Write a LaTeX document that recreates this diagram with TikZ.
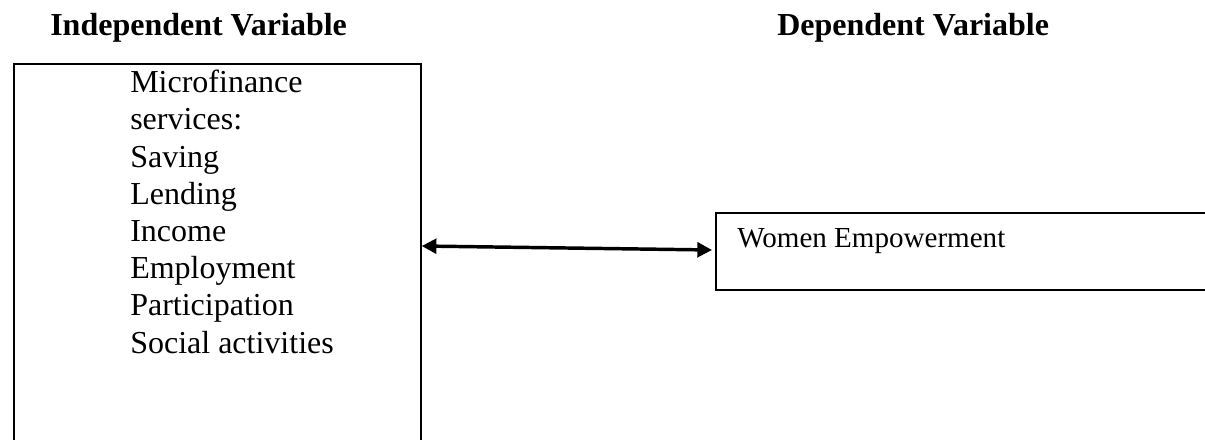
\documentclass[tikz,border=0pt]{standalone}
\usepackage{fontspec}
\setmainfont{Liberation Serif}
\usetikzlibrary{arrows.meta,calc}
\tikzset{
  frame/.style={draw=black, line width=1.3pt, inner sep=0pt, anchor=north west},
  heading/.style={font=\bfseries\fontsize{24}{28}\selectfont, inner sep=0pt, anchor=base west},
  body/.style={font=\fontsize{24}{27.9}\selectfont, inner sep=0pt, anchor=base west, align=left},
  small/.style={font=\fontsize{21.8}{26}\selectfont, inner sep=0pt, anchor=base west},
  link/.style={{Triangle[length=11pt,width=11pt]}-{Triangle[length=11pt,width=11pt]}, line width=2.6pt}
}
\begin{document}
\begin{tikzpicture}[x=0.75pt, y=-0.75pt]
\path[use as bounding box, fill=white] (0,0) rectangle (1205,439);
\clip (0,0) rectangle (1205,439);
\node[heading] (h1) at (50,35) {Independent Variable};
\node[heading] (h2) at (777,35) {Dependent Variable};
\node[frame, minimum width=305.25pt, minimum height=300pt] (indep) at (13,63) {};
\node[body] (list) at (130,353) {Microfinance\\services:\\Saving\\Lending\\Income\\Employment\\Participation\\Social activities};
\node[frame, minimum width=375pt, minimum height=57.75pt] (dep) at (715,212) {};
\node[small] (we) at (737,247) {Women Empowerment};
\draw[link] ($(indep.north east)+(0,183)$) -- ($(dep.north west)+(-3,38)$);
\end{tikzpicture}
\end{document}
